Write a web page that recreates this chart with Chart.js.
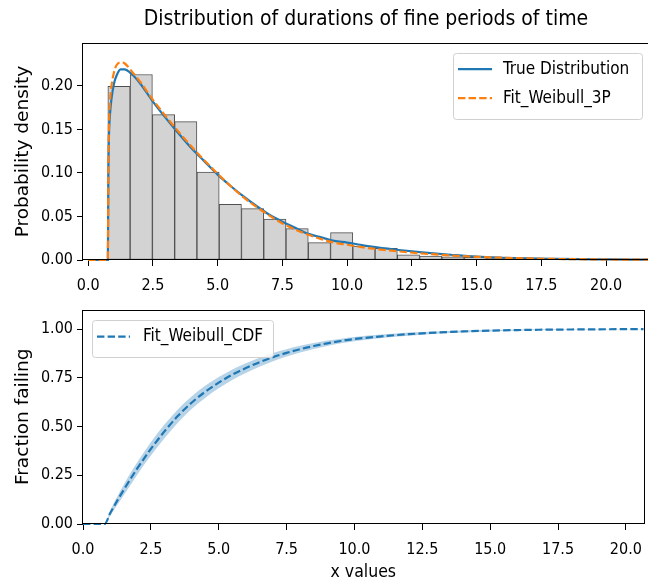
<!DOCTYPE html>
<html>
<head>
<meta charset="utf-8">
<script src="https://cdn.jsdelivr.net/npm/chart.js@4.4.1/dist/chart.umd.min.js"></script>
<style>
  html, body { margin: 0; padding: 0; background: #fff; overflow: hidden; width: 648px; height: 581px; }
  .box { position: absolute; left: 0; }
  #top { top: 0; width: 652px; height: 296px; }
  #bottom { top: 296px; width: 652px; height: 290px; }
</style>
</head>
<body>
<div class="box" id="top"><canvas id="pdfChart"></canvas></div>
<div class="box" id="bottom"><canvas id="cdfChart"></canvas></div>
<script>
// ---- data ----
const xTickValues = [0, 2.5, 5, 7.5, 10, 12.5, 15, 17.5, 20];
const pdfYTicks = [0, 0.05, 0.10, 0.15, 0.20];
const cdfYTicks = [0, 0.25, 0.50, 0.75, 1.00];

// histogram (bin centres, density)
const binCenters = [1.19, 2.05, 2.91, 3.77, 4.63, 5.49, 6.35, 7.21, 8.07, 8.93, 9.79, 10.65,
  11.51, 12.37, 13.23, 14.09, 14.95, 15.81, 16.67, 17.53, 18.39, 19.25, 20.11, 20.97, 21.83];
const binDensity = [0.1995, 0.213, 0.167, 0.159, 0.101, 0.064, 0.059, 0.047, 0.036, 0.020, 0.0315, 0.016,
  0.0135, 0.006, 0.0045, 0.0035, 0.003, 0.0018, 0.0012, 0.0009, 0.0012, 0.0006, 0.0008, 0.0005, 0.0004];

// pdf curves
const pdfX = [0, 0.5, 0.76, 0.78, 0.8, 0.85, 0.9, 1.0, 1.1, 1.25, 1.4, 1.7, 2.0, 2.5, 3.0, 3.5, 4.0, 4.5,
  5.0, 5.5, 6.0, 6.5, 7.0, 7.5, 8.0, 8.5, 9.0, 9.5, 10, 10.5, 11, 12, 13, 14, 15, 16, 17, 18, 19, 20, 21, 22];
const trueY = [0, 0, 0, 0.10, 0.14, 0.17, 0.185, 0.203, 0.212, 0.219, 0.219, 0.213, 0.203, 0.182, 0.163, 0.145, 0.128, 0.113,
  0.098, 0.085, 0.073, 0.062, 0.052, 0.044, 0.037, 0.030, 0.026, 0.022, 0.020, 0.0175, 0.015, 0.0115, 0.0085, 0.006, 0.0038,
  0.0026, 0.0018, 0.0013, 0.0009, 0.0007, 0.0005, 0.0004];
const fitY = [0, 0, 0, 0.11, 0.15, 0.185, 0.200, 0.216, 0.224, 0.227, 0.226, 0.216, 0.205, 0.184, 0.165, 0.147, 0.130, 0.114,
  0.099, 0.085, 0.072, 0.061, 0.051, 0.042, 0.035, 0.029, 0.024, 0.020, 0.0175, 0.015, 0.013, 0.0098, 0.0072, 0.0052, 0.0037,
  0.0026, 0.0018, 0.0012, 0.0009, 0.0006, 0.0004, 0.0003];

// cdf with confidence band
const cdfX = [0, 0.5, 0.8, 1.0, 1.5, 2.0, 2.5, 3.0, 3.5, 4.0, 4.5, 5.0, 5.5, 6.0, 6.5, 7.0, 7.5, 8.0, 8.5,
  9.0, 9.5, 10, 11, 12, 13, 14, 15, 16, 17, 18, 19, 20, 21];
const cdfY = [0, 0, 0, 0.055, 0.175, 0.285, 0.385, 0.475, 0.555, 0.622, 0.678, 0.725, 0.766, 0.80, 0.83, 0.856, 0.878, 0.897, 0.913,
  0.927, 0.939, 0.949, 0.963, 0.974, 0.982, 0.988, 0.992, 0.995, 0.997, 0.998, 0.999, 0.9995, 1.0];
const cdfLower = [0, 0, 0, 0.042, 0.148, 0.253, 0.351, 0.44, 0.521, 0.59, 0.647, 0.696, 0.739, 0.775, 0.807, 0.835, 0.859, 0.88, 0.898,
  0.913, 0.927, 0.938, 0.954, 0.966, 0.976, 0.983, 0.988, 0.992, 0.995, 0.997, 0.998, 0.999, 0.9995];
const cdfUpper = [0, 0, 0, 0.068, 0.202, 0.317, 0.419, 0.51, 0.589, 0.654, 0.709, 0.754, 0.793, 0.825, 0.853, 0.877, 0.897, 0.914, 0.928,
  0.941, 0.951, 0.96, 0.972, 0.982, 0.988, 0.993, 0.996, 0.998, 0.999, 0.9995, 1.0, 1.0, 1.0];

// ---- styling helpers ----
const CONDENSED = '"DejaVu Sans Condensed", "DejaVu Sans", sans-serif';
const NORMAL = '"DejaVu Sans", sans-serif';
const tickFont = { family: CONDENSED, size: 16 };
const DASH = [7.4, 3.2];
const CLIP = { left: 0, top: 0, right: 0, bottom: 2 };

function pts(xs, ys) { return xs.map((x, i) => ({ x: x, y: ys[i] })); }

// matplotlib-like box around the axes
const framePlugin = {
  id: 'frame',
  afterDraw(chart) {
    const a = chart.chartArea, ctx = chart.ctx;
    ctx.save();
    ctx.strokeStyle = '#000';
    ctx.lineWidth = 1;
    ctx.strokeRect(Math.round(a.left) - 0.5, Math.round(a.top) + 0.5, Math.round(a.right - a.left) + 1, Math.round(a.bottom - a.top) - 1);
    ctx.restore();
  }
};

// matplotlib-like legend inside the axes
const legendPlugin = {
  id: 'mplLegend',
  afterDraw(chart, args, o) {
    const a = chart.chartArea, ctx = chart.ctx;
    const items = chart.data.datasets.filter(d => d.inLegend);
    const left = o.side === 'right' ? a.right - o.dx - o.width : a.left + o.dx;
    const top = a.top + o.dy;
    ctx.save();
    ctx.beginPath();
    ctx.roundRect(Math.round(left) + 0.5, Math.round(top) + 0.5, o.width, o.height, 3);
    ctx.fillStyle = 'rgba(255,255,255,0.8)';
    ctx.fill();
    ctx.strokeStyle = '#d0d0d0';
    ctx.lineWidth = 1;
    ctx.stroke();
    items.forEach((d, i) => {
      const y = top + o.firstRow + i * o.rowGap;
      ctx.strokeStyle = d.borderColor;
      ctx.lineWidth = d.borderWidth;
      ctx.setLineDash(d.borderDash || []);
      ctx.beginPath();
      ctx.moveTo(left + 5, y);
      ctx.lineTo(left + 5 + o.handle, y);
      ctx.stroke();
      ctx.setLineDash([]);
      ctx.fillStyle = '#000';
      ctx.font = '17px ' + CONDENSED;
      ctx.textBaseline = 'middle';
      ctx.fillText(d.label, left + o.textX, y);
    });
    ctx.restore();
  }
};

function axisX(min, max, height, title) {
  return {
    type: 'linear', min: min, max: max, offset: false,
    afterFit: s => { s.height = height; },
    afterBuildTicks: s => { s.ticks = xTickValues.map(v => ({ value: v })); },
    grid: { display: true, drawOnChartArea: false, drawTicks: true, tickLength: 6, color: '#000', offset: false },
    border: { display: false },
    ticks: { font: tickFont, color: '#000', padding: 10, maxRotation: 0, autoSkip: false, callback: v => Number(v).toFixed(1) },
    title: title ? { display: true, text: title, font: { family: CONDENSED, size: 17.5 }, color: '#000', padding: { top: 0, bottom: 3 } } : { display: false }
  };
}

function axisY(min, max, ticks, title) {
  return {
    min: min, max: max,
    afterFit: s => { s.width = 83; },
    afterBuildTicks: s => { s.ticks = ticks.map(v => ({ value: v })); },
    grid: { display: true, drawOnChartArea: false, drawTicks: true, tickLength: 6, color: '#000' },
    border: { display: false },
    ticks: { font: tickFont, color: '#000', padding: 4, callback: v => Number(v).toFixed(2) },
    title: { display: true, text: title, font: { family: NORMAL, size: 18.5 }, color: '#000', padding: { top: 12, bottom: 0 } }
  };
}

// ---- top: histogram + pdf ----
new Chart(document.getElementById('pdfChart'), {
  type: 'bar',
  data: {
    datasets: [
      { type: 'line', label: 'True Distribution', inLegend: true, order: 1, data: pts(pdfX, trueY), clip: CLIP,
        borderColor: '#1f77b4', borderWidth: 2.2, pointRadius: 0, cubicInterpolationMode: 'monotone', fill: false },
      { type: 'line', label: 'Fit_Weibull_3P', inLegend: true, order: 0, data: pts(pdfX, fitY), clip: CLIP,
        borderColor: '#ff7f0e', borderWidth: 2.2, borderDash: DASH, pointRadius: 0, cubicInterpolationMode: 'monotone', fill: false },
      { type: 'bar', label: 'histogram', order: 2, data: pts(binCenters, binDensity),
        backgroundColor: '#d3d3d3', borderColor: '#505050', borderWidth: 1, borderSkipped: false,
        barPercentage: 1, categoryPercentage: 1, grouped: false }
    ]
  },
  options: {
    responsive: true, maintainAspectRatio: false, animation: false, devicePixelRatio: 1,
    layout: { padding: { left: 0, right: 3, top: 0, bottom: 0 } },
    scales: {
      x: axisX(-0.2, 21.66, 36, null),
      y: axisY(0, 0.249, pdfYTicks, 'Probability density')
    },
    plugins: {
      legend: { display: false },
      tooltip: { enabled: false },
      title: { display: true, fullSize: false, text: 'Distribution of durations of fine periods of time',
        font: { family: CONDENSED, size: 21, weight: 'normal' }, color: '#000', padding: { top: 7, bottom: 11 } },
      mplLegend: { side: 'right', dx: 7, dy: 10, width: 189, height: 66, firstRow: 16, rowGap: 29, handle: 34, textX: 50 }
    }
  },
  plugins: [framePlugin, legendPlugin]
});

// ---- bottom: fitted CDF ----
new Chart(document.getElementById('cdfChart'), {
  type: 'line',
  data: {
    datasets: [
      { label: 'Fit_Weibull_CDF', inLegend: true, data: pts(cdfX, cdfY), clip: CLIP,
        borderColor: '#1f77b4', borderWidth: 2.2, borderDash: DASH, pointRadius: 0, cubicInterpolationMode: 'monotone', fill: false },
      { label: 'upper', data: pts(cdfX, cdfUpper), borderWidth: 0, pointRadius: 0, cubicInterpolationMode: 'monotone',
        fill: '+1', backgroundColor: 'rgba(31,119,180,0.32)' },
      { label: 'lower', data: pts(cdfX, cdfLower), borderWidth: 0, pointRadius: 0, cubicInterpolationMode: 'monotone', fill: false }
    ]
  },
  options: {
    responsive: true, maintainAspectRatio: false, animation: false, devicePixelRatio: 1,
    layout: { padding: { left: 0, right: 3, top: 9, bottom: 0 } },
    scales: {
      x: axisX(0, 20.65, 62, 'x values'),
      y: axisY(0, 1.1, cdfYTicks, 'Fraction failing')
    },
    plugins: {
      legend: { display: false },
      tooltip: { enabled: false },
      mplLegend: { side: 'left', dx: 9, dy: 10, width: 181, height: 37, firstRow: 17, rowGap: 29, handle: 33, textX: 51 }
    }
  },
  plugins: [framePlugin, legendPlugin]
});
</script>
</body>
</html>
